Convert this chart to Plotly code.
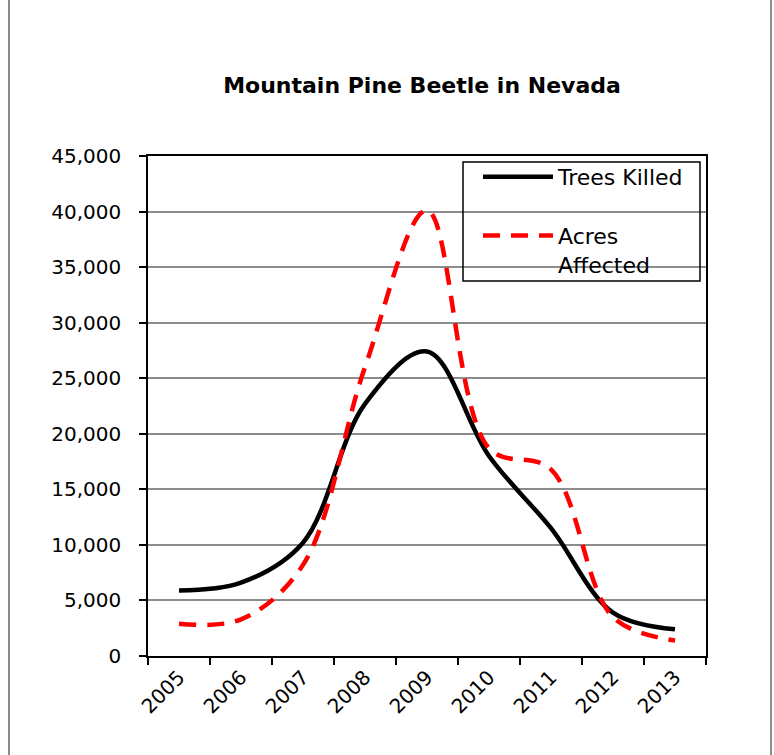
import plotly.graph_objects as go

# Mountain pine beetle activity in Nevada, by year
years = ["2005", "2006", "2007", "2008", "2009", "2010", "2011", "2012", "2013"]
trees_killed = [5900, 6600, 10200, 22700, 27400, 18000, 11500, 3900, 2400]
acres_affected = [2900, 3300, 8200, 26000, 40100, 18700, 16800, 3500, 1400]
y_ticks = [0, 5000, 10000, 15000, 20000, 25000, 30000, 35000, 40000, 45000]

FONT = "DejaVu Sans"

# plot-area pixel geometry (used for paper-coordinate placement)
PL, PR, PT, PB = 148, 706, 156, 656
W, H = 774, 755


def px_x(px):
    return (px - PL) / (PR - PL)


def px_y(py):
    return (PB - py) / (PB - PT)


fig = go.Figure()
fig.add_trace(go.Scatter(
    x=years, y=trees_killed, name="Trees Killed", mode="lines",
    line=dict(color="#000000", width=4.5, shape="spline", smoothing=1.0),
    legendgroup="a",
))
fig.add_trace(go.Scatter(
    x=years, y=acres_affected, name="Acres<br>Affected", mode="lines",
    line=dict(color="#ff0000", width=4.5, shape="spline", smoothing=1.0, dash="17px,11px"),
    legendgroup="b",
))

fig.update_layout(
    width=W, height=H,
    margin=dict(l=PL, r=W - PR, t=PT, b=H - PB),
    paper_bgcolor="white", plot_bgcolor="white",
    font=dict(family=FONT, size=20, color="#000000"),
    title=dict(
        text="<b>Mountain Pine Beetle in Nevada</b>",
        x=px_x(422), xref="paper", xanchor="center",
        y=1 - 85 / H, yref="container", yanchor="middle",
        font=dict(family=FONT, size=22, color="#000000"),
    ),
    showlegend=True,
    legend=dict(
        x=px_x(478), y=px_y(156), xanchor="left", yanchor="top",
        bgcolor="rgba(0,0,0,0)", borderwidth=0,
        font=dict(family=FONT, size=22, color="#000000"),
        itemwidth=70, traceorder="grouped", tracegroupgap=27,
        valign="top",
    ),
    xaxis=dict(
        type="category", range=[-0.5, 8.5],
        tickangle=-45, tickson="boundaries",
        ticks="outside", ticklen=7, tickwidth=1.5, tickcolor="#000000",
        showline=True, linecolor="#000000", linewidth=1.5, mirror=True,
        showgrid=False, tickfont=dict(family=FONT, size=20),
    ),
    yaxis=dict(
        range=[0, 45000], tickvals=y_ticks, tickformat=",",
        ticks="outside", ticklen=7, tickwidth=1.5, tickcolor="#000000",
        ticklabelstandoff=14,
        showline=True, linecolor="#000000", linewidth=1.5, mirror=True,
        showgrid=True, gridcolor="#8c8c8c", gridwidth=1.5,
        zeroline=False, tickfont=dict(family=FONT, size=20),
    ),
    shapes=[
        # chart area frame
        dict(type="rect", xref="paper", yref="paper",
             x0=px_x(9), x1=px_x(771), y0=px_y(770), y1=px_y(-20),
             line=dict(color="#8c8c8c", width=2), layer="below"),
        # legend frame (transparent; gridlines show through)
        dict(type="rect", xref="paper", yref="paper",
             x0=px_x(463), x1=px_x(700), y0=px_y(281), y1=px_y(162),
             line=dict(color="#000000", width=1.5), layer="above"),
    ],
)

fig.write_html("out.html")
